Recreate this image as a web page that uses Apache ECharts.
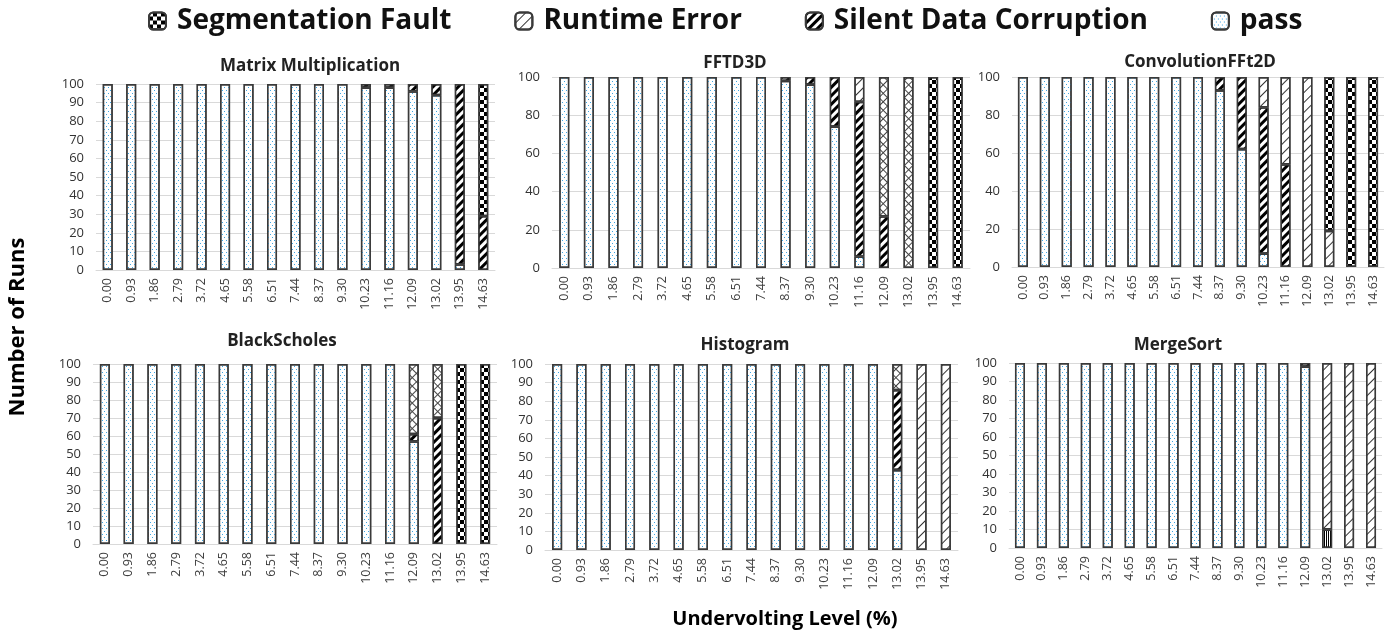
<!DOCTYPE html>
<html>
<head>
<meta charset="utf-8">
<script src="https://cdn.jsdelivr.net/npm/echarts@6/dist/echarts.min.js"></script>
<style>
html,body{margin:0;padding:0;background:#fff;}
#chart{width:1394px;height:639px;}
</style>
</head>
<body>
<div id="chart"></div>
<script>
// ---------------- data ----------------
const categories = ['0.00','0.93','1.86','2.79','3.72','4.65','5.58','6.51','7.44','8.37','9.30','10.23','11.16','12.09','13.02','13.95','14.63'];
const legendNames = ['Segmentation Fault','Runtime Error','Silent Data Corruption','pass'];
const panelTitles = ['Matrix Multiplication','FFTD3D','ConvolutionFFt2D','BlackScholes','Histogram','MergeSort'];

// Matrix Multiplication
const mmPass = [100,100,100,100,100,100,100,100,100,100,100,98,98,96,94,3,0];
const mmSDC  = [0,0,0,0,0,0,0,0,0,0,0,2,2,4,6,97,29];
const mmSeg  = [0,0,0,0,0,0,0,0,0,0,0,0,0,0,0,0,71];
// FFTD3D
const fftPass  = [100,100,100,100,100,100,100,100,100,98,96,74,6,0,0,0,0];
const fftSDC   = [0,0,0,0,0,0,0,0,0,2,4,26,81,27,0,0,0];
const fftRE    = [0,0,0,0,0,0,0,0,0,0,0,0,13,0,0,0,0];
const fftREx   = [0,0,0,0,0,0,0,0,0,0,0,0,0,73,100,0,0];
const fftSeg   = [0,0,0,0,0,0,0,0,0,0,0,0,0,0,0,100,100];
// ConvolutionFFt2D
const convPass = [100,100,100,100,100,100,100,100,100,93,62,7,0,0,0,0,0];
const convSDC  = [0,0,0,0,0,0,0,0,0,7,38,77,54,0,0,0,0];
const convRE   = [0,0,0,0,0,0,0,0,0,0,0,16,46,100,19,0,0];
const convSeg  = [0,0,0,0,0,0,0,0,0,0,0,0,0,0,81,100,100];
// BlackScholes
const bsPass = [100,100,100,100,100,100,100,100,100,100,100,100,100,57,0,0,0];
const bsSDC  = [0,0,0,0,0,0,0,0,0,0,0,0,0,4,70,0,0];
const bsREx  = [0,0,0,0,0,0,0,0,0,0,0,0,0,39,30,0,0];
const bsSeg  = [0,0,0,0,0,0,0,0,0,0,0,0,0,0,0,100,100];
// Histogram
const hPass = [100,100,100,100,100,100,100,100,100,100,100,100,100,100,43,0,0];
const hSDC  = [0,0,0,0,0,0,0,0,0,0,0,0,0,0,43,0,0];
const hREx  = [0,0,0,0,0,0,0,0,0,0,0,0,0,0,14,0,0];
const hRE   = [0,0,0,0,0,0,0,0,0,0,0,0,0,0,0,100,100];
// MergeSort
const msPass  = [100,100,100,100,100,100,100,100,100,100,100,100,100,98,0,0,0];
const msSDC   = [0,0,0,0,0,0,0,0,0,0,0,0,0,2,0,0,0];
const msOther = [0,0,0,0,0,0,0,0,0,0,0,0,0,0,10,0,0];
const msRE    = [0,0,0,0,0,0,0,0,0,0,0,0,0,0,90,100,100];

const yTicks = [10,20,20,10,10,10];

// ---------------- styles ----------------
const FONT = 'Open Sans';
const decals = {
  pass: {symbol:'rect', symbolSize:1, color:'#3ea6e4', dashArrayX:[[1,3],[0,2,1,1]], dashArrayY:[1,2], rotation:0},
  sdc:  {symbol:'rect', symbolSize:1, color:'#000', dashArrayX:[1,0], dashArrayY:[3,3], rotation:-Math.PI/4},
  re:   {symbol:'rect', symbolSize:1, color:'#333', dashArrayX:[1,0], dashArrayY:[1,6], rotation:-Math.PI/4},
  rex:  {symbol:'rect', symbolSize:1, color:'#444', dashArrayX:[[1,0],[1,5],[1,5],[1,5],[1,5],[1,5]], dashArrayY:[1,0], rotation:Math.PI/4},
  seg:  {symbol:'rect', symbolSize:1, color:'#000', dashArrayX:[[4,4],[0,4,4,0]], dashArrayY:[4,0], rotation:0},
  other:{symbol:'rect', symbolSize:1, color:'#000', dashArrayX:[1,1], dashArrayY:[1,0], rotation:0}
};
const seriesNames = {pass:'pass', other:'Other', sdc:'Silent Data Corruption', rex:'Runtime Error (x)', re:'Runtime Error', seg:'Segmentation Fault'};
const order = ['pass','other','sdc','rex','re','seg'];

const panels = [
  {pass:mmPass, sdc:mmSDC, seg:mmSeg},
  {pass:fftPass, sdc:fftSDC, re:fftRE, rex:fftREx, seg:fftSeg},
  {pass:convPass, sdc:convSDC, re:convRE, seg:convSeg},
  {pass:bsPass, sdc:bsSDC, rex:bsREx, seg:bsSeg},
  {pass:hPass, sdc:hSDC, rex:hREx, re:hRE},
  {pass:msPass, other:msOther, sdc:msSDC, re:msRE}
];

const grids = [
  {left:96,  top:84,  width:399, height:186},
  {left:552, top:77,  width:418, height:191},
  {left:1012,top:77,  width:372, height:190},
  {left:93,  top:364, width:404, height:180},
  {left:545, top:364, width:413, height:186},
  {left:1009,top:363, width:373, height:185}
];
const titlePos = [[310,66],[735,63],[1200,62],[282,341],[745,345],[1178,345]];

const xAxes = [], yAxes = [], series = [], graphics = [];
grids.forEach((g, i) => {
  xAxes.push({
    type:'category', gridIndex:i, data:categories,
    axisTick:{show:false},
    axisLine:{lineStyle:{color:'#d9d9d9', width:1}},
    axisLabel:{rotate:90, interval:0, fontSize:12.5, color:'#404040', fontFamily:FONT, margin:8}
  });
  yAxes.push({
    type:'value', gridIndex:i, min:0, max:100, interval:yTicks[i],
    axisLine:{show:false}, axisTick:{show:false},
    splitLine:{lineStyle:{color:'#d9d9d9', width:1}},
    axisLabel:{fontSize:13, color:'#333', fontFamily:FONT, margin:12}
  });
  order.forEach(k => {
    const arr = panels[i][k];
    if (!arr) return;
    series.push({
      type:'bar', name:seriesNames[k], xAxisIndex:i, yAxisIndex:i, stack:'s'+i,
      barWidth:10,
      data: arr.map(v => v === 0 ? '-' : v),
      itemStyle:{color:'#fff', borderColor:'#3a3a3a', borderWidth:1.4, decal:decals[k]},
      emphasis:{disabled:true}
    });
  });
  graphics.push({
    type:'text', x:titlePos[i][0], y:titlePos[i][1],
    style:{text:panelTitles[i], fontSize:17, fontWeight:'bold', fontFamily:FONT, fill:'#222', align:'center', verticalAlign:'middle'}
  });
});

graphics.push({
  type:'text', x:785, y:619,
  style:{text:'Undervolting Level (%)', fontSize:20, fontWeight:'bold', fontFamily:FONT, fill:'#000', align:'center', verticalAlign:'middle'}
});
graphics.push({
  type:'text', x:18, y:327, rotation:Math.PI/2,
  style:{text:'Number of Runs', fontSize:22, fontWeight:'bold', fontFamily:FONT, fill:'#000', align:'center', verticalAlign:'middle'}
});

const chart = echarts.init(document.getElementById('chart'), null, {renderer:'canvas'});
chart.setOption({
  animation:false,
  aria:{enabled:true, decal:{show:true}},
  legend:{
    data:legendNames, left:143, top:2, itemWidth:17, itemHeight:17, itemGap:63,
    selectedMode:false,
    textStyle:{fontSize:28, fontWeight:'bold', fontFamily:FONT, color:'#111', padding:[0,0,0,6]}
  },
  grid:grids,
  xAxis:xAxes,
  yAxis:yAxes,
  series:series,
  graphic:graphics
});
</script>
</body>
</html>
